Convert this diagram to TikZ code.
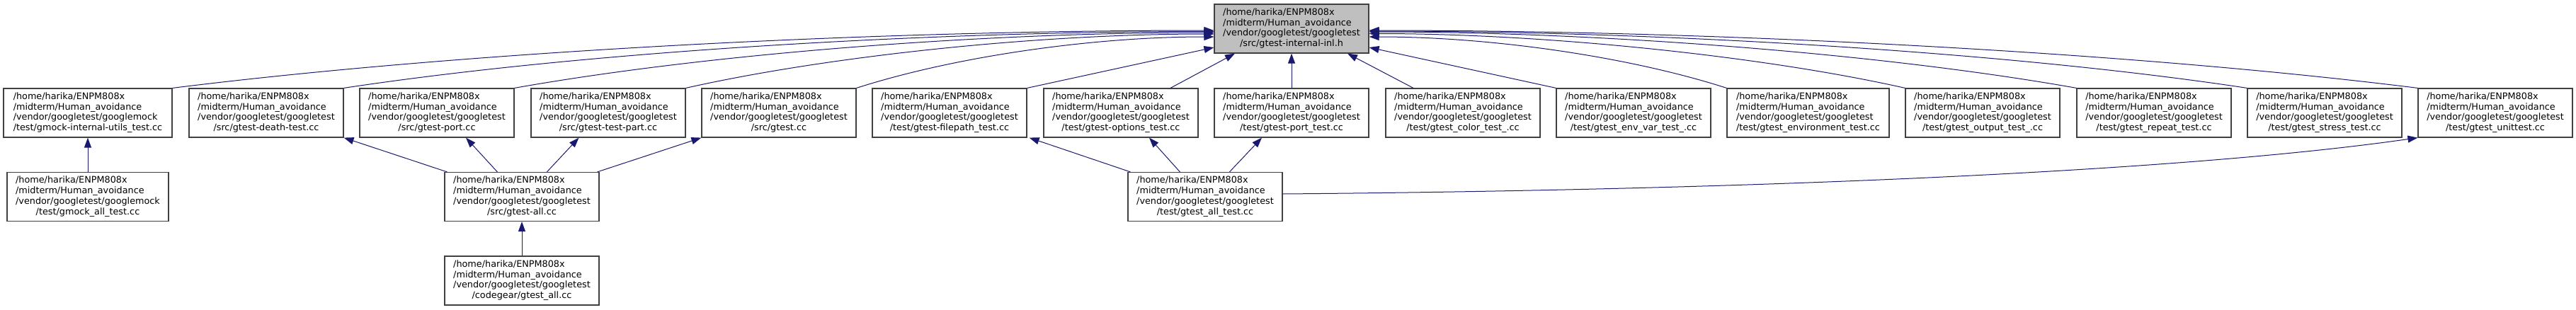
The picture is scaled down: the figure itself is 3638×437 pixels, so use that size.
\documentclass[tikz,border=0pt]{standalone}
\usepackage{fontspec}
\setmainfont{DejaVu Sans}
\usetikzlibrary{arrows.meta,calc}
\definecolor{edgeblue}{HTML}{191970}
\definecolor{boxline}{HTML}{404040}
\definecolor{rootfill}{HTML}{BFBFBF}
\newcommand\lbl[2]{\begin{tabular}{@{}l@{}}/home/harika/ENPM808x\\/midterm/Human\_avoidance\\/vendor/googletest/#1\\\multicolumn{1}{@{}c@{}}{#2}\end{tabular}}
\tikzset{
  filebox/.style={draw=boxline, line width=1.2pt, fill=white, inner sep=0pt, minimum height=69pt, minimum width=218pt, font=\fontsize{12.8}{14.8}\selectfont, text=black},
  rootbox/.style={filebox, fill=rootfill},
  edge/.style={draw=edgeblue, line width=1pt, -{Triangle[length=14pt,width=10pt]}}
}
\begin{document}
\begin{tikzpicture}[x=1pt,y=-1pt]
\useasboundingbox (0,0) rectangle (3638,437);
\fill[white] (0,0) rectangle (3638,437);
% root
\node[rootbox] (root) at (1824,40.5) {\lbl{googletest}{/src/gtest-internal-inl.h}};
% row 2
\node[filebox, minimum width=238pt] (b1) at (124,159.5) {\lbl{googlemock}{/test/gmock-internal-utils\_test.cc}};
\node[filebox] (b2) at (376,159.5) {\lbl{googletest}{/src/gtest-death-test.cc}};
\node[filebox] (b3) at (617,159.5) {\lbl{googletest}{/src/gtest-port.cc}};
\node[filebox] (b4) at (859,159.5) {\lbl{googletest}{/src/gtest-test-part.cc}};
\node[filebox] (b5) at (1100,159.5) {\lbl{googletest}{/src/gtest.cc}};
\node[filebox] (b6) at (1341,159.5) {\lbl{googletest}{/test/gtest-filepath\_test.cc}};
\node[filebox] (b7) at (1583,159.5) {\lbl{googletest}{/test/gtest-options\_test.cc}};
\node[filebox] (b8) at (1824,159.5) {\lbl{googletest}{/test/gtest-port\_test.cc}};
\node[filebox] (b9) at (2066,159.5) {\lbl{googletest}{/test/gtest\_color\_test\_.cc}};
\node[filebox] (b10) at (2307,159.5) {\lbl{googletest}{/test/gtest\_env\_var\_test\_.cc}};
\node[filebox, minimum width=229pt] (b11) at (2553.5,159.5) {\lbl{googletest}{/test/gtest\_environment\_test.cc}};
\node[filebox] (b12) at (2800,159.5) {\lbl{googletest}{/test/gtest\_output\_test\_.cc}};
\node[filebox] (b13) at (3042,159.5) {\lbl{googletest}{/test/gtest\_repeat\_test.cc}};
\node[filebox] (b14) at (3283,159.5) {\lbl{googletest}{/test/gtest\_stress\_test.cc}};
\node[filebox] (b15) at (3524,159.5) {\lbl{googletest}{/test/gtest\_unittest.cc}};
% row 3
\node[filebox, minimum width=228pt] (c1) at (124,278) {\lbl{googlemock}{/test/gmock\_all\_test.cc}};
\node[filebox] (c2) at (737,278) {\lbl{googletest}{/src/gtest-all.cc}};
\node[filebox] (c3) at (1702,278) {\lbl{googletest}{/test/gtest\_all\_test.cc}};
% row 4
\node[filebox] (d1) at (737,396.5) {\lbl{googletest}{/codegear/gtest\_all.cc}};
% anchor points on root
\coordinate (rl1) at ($(root.west)+(0,2.5)$);
\coordinate (rl2) at ($(root.west)+(0,4)$);
\coordinate (rl3) at ($(root.west)+(0,5.5)$);
\coordinate (rl4) at ($(root.west)+(0,7.5)$);
\coordinate (rl5) at ($(root.west)+(0,11.5)$);
\coordinate (rl6) at ($(root.west)+(0,26.5)$);
\coordinate (rb1) at ($(root.south)+(-80,0)$);
\coordinate (rb3) at ($(root.south)+(79,0)$);
\coordinate (rr10) at ($(root.east)+(0,26.5)$);
\coordinate (rr11) at ($(root.east)+(0,11.5)$);
\coordinate (rr12) at ($(root.east)+(0,7)$);
\coordinate (rr13) at ($(root.east)+(0,4.5)$);
\coordinate (rr14) at ($(root.east)+(0,3.5)$);
\coordinate (rr15) at ($(root.east)+(0,2.5)$);
% edges into root (left)
\draw[edge] (b1.north east) .. controls +(400,-50) and +(-500,0) .. (rl1);
\draw[edge] (b2.north east) .. controls +(330,-50) and +(-420,0) .. (rl2);
\draw[edge] (b3.north east) .. controls +(270,-48) and +(-330,0) .. (rl3);
\draw[edge] (b4.north east) .. controls +(200,-45) and +(-250,0) .. (rl4);
\draw[edge] (b5.north east) .. controls +(140,-45) and +(-170,0) .. (rl5);
\draw[edge] (b6.north east) -- (rl6);
\draw[edge] ($(b7.north)+(70,0)$) -- (rb1);
\draw[edge] (b8.north) -- (root.south);
\draw[edge] ($(b9.north)+(-70,0)$) -- (rb3);
% edges into root (right)
\draw[edge] (b10.north west) -- (rr10);
\draw[edge] (b11.north west) .. controls +(-140,-45) and +(170,0) .. (rr11);
\draw[edge] (b12.north west) .. controls +(-200,-45) and +(250,0) .. (rr12);
\draw[edge] (b13.north west) .. controls +(-270,-48) and +(330,0) .. (rr13);
\draw[edge] (b14.north west) .. controls +(-330,-50) and +(420,0) .. (rr14);
\draw[edge] (b15.north west) .. controls +(-400,-50) and +(500,0) .. (rr15);
% row 3 -> row 2
\draw[edge] (c1.north) -- (b1.south);
\draw[edge] ($(c2.north west)+(4,0)$) -- (b2.south east);
\draw[edge] ($(c2.north west)+(75,0)$) -- ($(b3.south)+(41,0)$);
\draw[edge] ($(c2.north west)+(145,0)$) -- ($(b4.south)+(-41.5,0)$);
\draw[edge] ($(c2.north east)+(-3,0)$) -- (b5.south west);
\draw[edge] ($(c3.north west)+(4,0)$) -- ($(b6.south east)+(3,0)$);
\draw[edge] ($(c3.north west)+(74,0)$) -- ($(b7.south)+(40,0)$);
\draw[edge] ($(c3.north west)+(144,0)$) -- ($(b8.south)+(-42,0)$);
\draw[edge] ($(c3.east)+(0,-4)$) .. controls +(700,-6) and +(-320,46) .. (b15.south west);
% row 4 -> row 3
\draw[edge] (d1.north) -- (c2.south);
\end{tikzpicture}
\end{document}
